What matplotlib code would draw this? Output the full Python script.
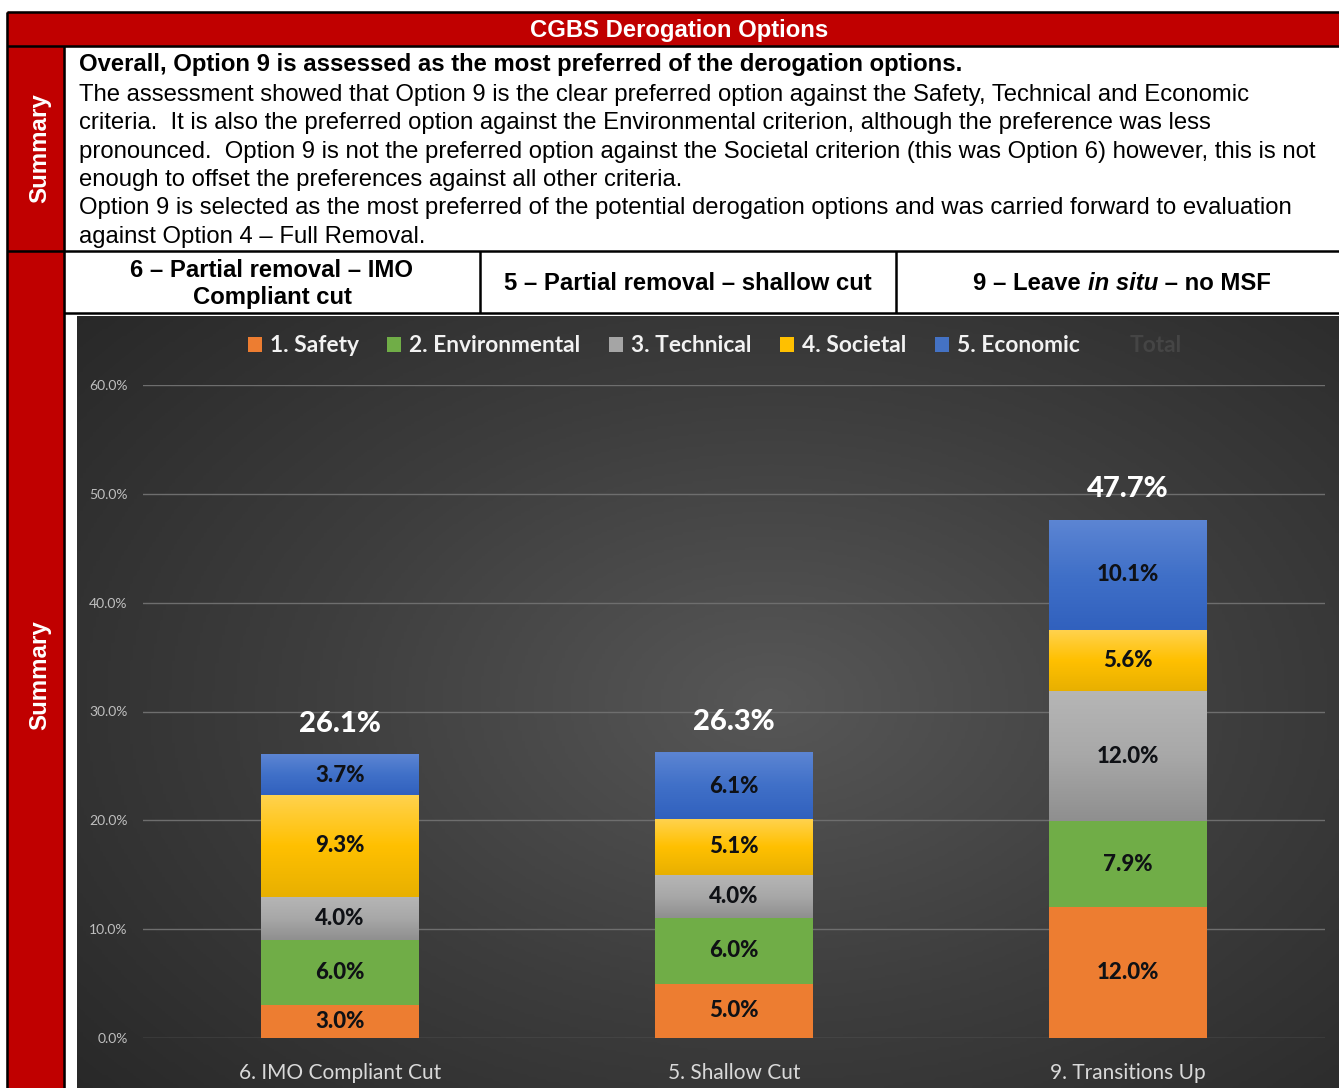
import numpy as np
import matplotlib.pyplot as plt
from matplotlib.patches import Rectangle, Patch
from matplotlib.colors import LinearSegmentedColormap

W, H = 1339, 1088
RED = '#C00000'

# chart data (percent of total score)
categories = ['6. IMO Compliant Cut', '5. Shallow Cut', '9. Transitions Up']
series_names = ['1. Safety', '2. Environmental', '3. Technical', '4. Societal', '5. Economic']
safety = [3.0, 5.0, 12.0]
environmental = [6.0, 6.0, 7.9]
technical = [4.0, 4.0, 12.0]
societal = [9.3, 5.1, 5.6]
economic = [3.7, 6.1, 10.1]
totals = [26.1, 26.3, 47.7]
yticks = [0, 10, 20, 30, 40, 50, 60]

# table text
title = 'CGBS Derogation Options'
summary_bold = 'Overall, Option 9 is assessed as the most preferred of the derogation options.'
summary_lines = [
    'The assessment showed that Option 9 is the clear preferred option against the Safety, Technical and Economic',
    'criteria.  It is also the preferred option against the Environmental criterion, although the preference was less',
    'pronounced.  Option 9 is not the preferred option against the Societal criterion (this was Option 6) however, this is not',
    'enough to offset the preferences against all other criteria.',
    'Option 9 is selected as the most preferred of the potential derogation options and was carried forward to evaluation',
    'against Option 4 \u2013 Full Removal.',
]
option_6 = '6 \u2013 Partial removal \u2013 IMO\nCompliant cut'
option_5 = '5 \u2013 Partial removal \u2013 shallow cut'
option_9 = ['9 \u2013 Leave ', 'in situ', ' \u2013 no MSF']

series_values = [safety, environmental, technical, societal, economic]
series_colors = ['#ED7D31', '#70AD47', '#A5A5A5', '#FFC000', '#4472C4']
series_grads = [None, None, ('#8f8f8f', '#a8a8a8', '#b6b6b6'),
                ('#e8b000', '#ffc000', '#ffd24d'), ('#3161be', '#4070c8', '#5c85d3')]

TABLE_FONT = ['Liberation Sans', 'DejaVu Sans']
CHART_FONT = ['Lato', 'DejaVu Sans']
FS = 17.2


def box(x0, y0, x1, y1):
    return [x0 / W, 1 - y1 / H, (x1 - x0) / W, (y1 - y0) / H]


fig = plt.figure(figsize=(W / 100, H / 100), dpi=100)

# page / table layer in pixel coordinates
page = fig.add_axes([0, 0, 1, 1])
page.set_xlim(0, W)
page.set_ylim(H, 0)
page.axis('off')

page.add_patch(Rectangle((7, 12), W - 7, 34, color=RED))
page.add_patch(Rectangle((7, 46), 57, H - 46, color=RED))

lines = [
    ([7, W], [12, 12]), ([7, 7], [12, H]), ([7, W], [46, 46]),
    ([64, 64], [46, H]), ([7, W], [251, 251]), ([64, W], [313, 313]),
    ([480, 480], [251, 313]), ([896, 896], [251, 313]),
]
for xs, ys in lines:
    page.plot(xs, ys, color='black', lw=1.8, solid_capstyle='butt')

page.text(679, 31, title, color='white', fontsize=FS, fontweight='bold',
          ha='center', va='center', family=TABLE_FONT)
page.text(79, 65, summary_bold, fontsize=FS, fontweight='bold',
          ha='left', va='center', family=TABLE_FONT)
for i, line in enumerate(summary_lines):
    page.text(79, 95 + i * 28.3, line, fontsize=FS, ha='left', va='center',
              family=TABLE_FONT)

for y in [148, 675]:
    page.text(40, y, 'Summary', color='white', fontsize=17.4, fontweight='bold',
              rotation=90, ha='center', va='center', family=TABLE_FONT)

page.text(272, 284, option_6, fontsize=FS, fontweight='bold', ha='center',
          va='center', linespacing=1.2, family=TABLE_FONT)
page.text(688, 284, option_5, fontsize=FS, fontweight='bold', ha='center',
          va='center', family=TABLE_FONT)

# mixed bold / bold-italic header, laid out piece by piece
renderer = fig.canvas.get_renderer()
pieces = []
for j, part in enumerate(option_9):
    t = page.text(0, 284, part, fontsize=FS, fontweight='bold',
                  style='italic' if j == 1 else 'normal',
                  ha='left', va='center', family=TABLE_FONT)
    pieces.append(t)
widths = [t.get_window_extent(renderer).width for t in pieces]
x = 1122 - sum(widths) / 2
for t, w in zip(pieces, widths):
    t.set_x(x)
    x += w

# chart background with soft radial light
bgax = fig.add_axes(box(77, 316, W, H))
gx, gy = np.meshgrid(np.linspace(0, 1, 400), np.linspace(0, 1, 300))
dist = np.sqrt(((gx - 0.55) / 0.75) ** 2 + ((gy - 0.5) / 0.8) ** 2)
bg_cmap = LinearSegmentedColormap.from_list('bg', ['#575757', '#3d3d3d', '#272727'])
bgax.imshow(np.clip(dist, 0, 1), cmap=bg_cmap, vmin=0, vmax=1, aspect='auto',
            extent=[0, 1, 0, 1], origin='lower')
bgax.axis('off')

# stacked bar chart
ax = fig.add_axes(box(143, 385, 1325, 1038))
ax.patch.set_alpha(0)
x_pos = np.arange(len(categories))
bar_w = 0.4
bottom = np.zeros(len(categories))
handles = []
grad = np.linspace(0, 1, 100).reshape(-1, 1)
for name, vals, col, gcols in zip(series_names, series_values, series_colors, series_grads):
    bars = ax.bar(x_pos, vals, bar_w, bottom=bottom, color=col, label=name, zorder=2)
    if gcols is not None:
        cm = LinearSegmentedColormap.from_list(name, list(gcols))
        for r in bars:
            ax.imshow(grad, cmap=cm, aspect='auto', origin='lower', zorder=2.5,
                      extent=[r.get_x(), r.get_x() + r.get_width(),
                              r.get_y(), r.get_y() + r.get_height()])
    labs = ax.bar_label(bars, labels=[f'{v:.1f}%' for v in vals], label_type='center',
                        fontsize=16, fontweight='black', color='#0f1115',
                        family=CHART_FONT)
    for lab in labs:
        lab.set_zorder(5)
    handles.append(Patch(facecolor=col, label=name))
    bottom += np.array(vals)

for xi, top, tot in zip(x_pos, bottom, totals):
    ax.annotate(f'{tot:.1f}%', (xi, top), xytext=(0, 22), textcoords='offset points',
                ha='center', va='center', color='white', fontsize=21,
                fontweight='black', family=CHART_FONT, zorder=5)

ax.set_xlim(-0.5, 2.5)
ax.set_ylim(0, 60)
ax.set_yticks(yticks)
ax.set_yticklabels([f'{v:.1f}%' for v in yticks], family=CHART_FONT)
ax.set_xticks(x_pos)
ax.set_xticklabels(categories, family=CHART_FONT)
ax.tick_params(axis='y', length=0, pad=11, labelsize=10, labelcolor='#bfbfbf')
ax.tick_params(axis='x', length=0, pad=18, labelsize=15, labelcolor='#d9d9d9')
ax.yaxis.grid(True, color='#6e6e6e', lw=1)
ax.set_axisbelow(True)
for sp in ax.spines.values():
    sp.set_visible(False)

handles.append(Patch(facecolor='none', edgecolor='none', label='Total'))
leg = fig.legend(handles=handles, loc='center', bbox_to_anchor=(715 / W, 1 - 346 / H),
                 ncol=6, frameon=False, handlelength=0.6, handleheight=0.6,
                 handletextpad=0.35, columnspacing=1.27,
                 prop={'family': CHART_FONT, 'weight': 'bold', 'size': 16.4})
for k, txt in enumerate(leg.get_texts()):
    txt.set_color('#f2f2f2' if k < 5 else '#454545')

fig.savefig('out.png', dpi=100)
